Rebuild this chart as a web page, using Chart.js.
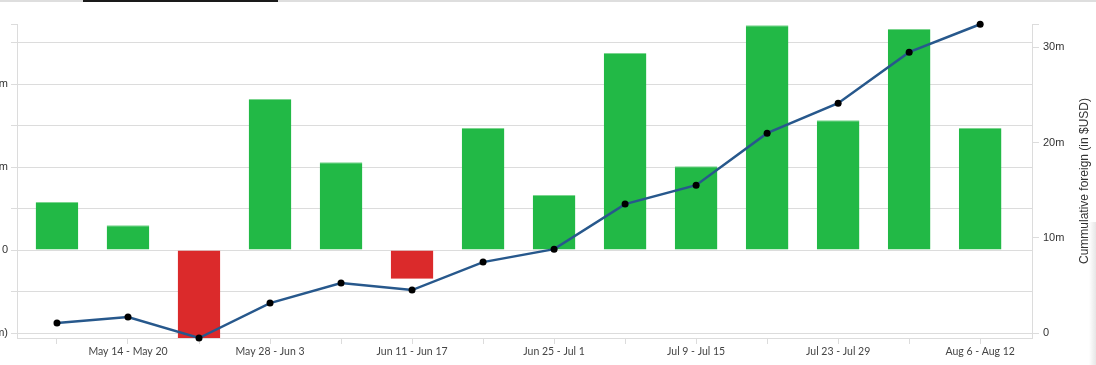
<!DOCTYPE html>
<html>
<head>
<meta charset="utf-8">
<script src="https://cdn.jsdelivr.net/npm/chart.js@4"></script>
<style>
  html, body { margin:0; padding:0; background:#fff; overflow:hidden; }
  body { width:1096px; height:365px; position:relative; }
  #topLine { position:absolute; left:0; top:0; width:1096px; height:2px; background:#dedede; }
  #topTab { position:absolute; left:83px; top:0; width:195px; height:2px; background:#1a1a1a; }
  #edge { position:absolute; left:1089px; top:222px; width:7px; height:143px;
          background:linear-gradient(to right, #ffffff, #e6e6e6); }
  #wrap { position:absolute; left:-43px; top:0; width:1139px; height:365px; }
</style>
</head>
<body>
<div id="wrap"><canvas id="foreignChart"></canvas></div>
<div id="topLine"></div>
<div id="topTab"></div>
<div id="edge"></div>
<script>
// weekly net foreign flow (m USD) and running total
const weeks = ['May 7 - May 13','May 14 - May 20','May 21 - May 27','May 28 - Jun 3','Jun 4 - Jun 10',
  'Jun 11 - Jun 17','Jun 18 - Jun 24','Jun 25 - Jul 1','Jul 2 - Jul 8','Jul 9 - Jul 15',
  'Jul 16 - Jul 22','Jul 23 - Jul 29','Jul 30 - Aug 5','Aug 6 - Aug 12'];
const weeklyNet = [1.16, 0.60, -2.20, 3.64, 2.12, -0.70, 2.94, 1.33, 4.75, 2.02, 5.42, 3.13, 5.33, 2.94];
const cumulative = [1.05, 1.68, -0.52, 3.15, 5.25, 4.51, 7.45, 8.81, 13.54, 15.53, 20.99, 24.13, 29.49, 32.42];
const leftTicks = [-2, -1, 0, 1, 2, 3, 4, 5];
const rightTicks = [0, 10, 20, 30];

const GRID = '#dcdcdc';
const LEFT_MAX = 5.45, RIGHT_MAX = 32.45;

function fmtM(v) {
  if (v === 0) return '0';
  return v < 0 ? '(' + Math.abs(v) + 'm)' : v + 'm';
}

const rightTitle = {
  id: 'rightTitle',
  afterDraw(chart) {
    const ctx = chart.ctx;
    const a = chart.chartArea;
    ctx.save();
    ctx.translate(1128, (a.top + a.bottom) / 2);
    ctx.rotate(-Math.PI / 2);
    ctx.font = '12px "Liberation Sans", Arial, sans-serif';
    ctx.fillStyle = '#333';
    ctx.textAlign = 'center';
    ctx.textBaseline = 'middle';
    ctx.fillText('Cummulative foreign (in $USD)', 0, 0);
    ctx.restore();
  }
};

new Chart(document.getElementById('foreignChart'), {
  data: {
    datasets: [
      {
        type: 'line',
        label: 'Cumulative',
        data: cumulative.map((v, i) => ({ x: i, y: v })),
        yAxisID: 'yRight',
        borderColor: '#27588c',
        borderWidth: 2.5,
        pointRadius: 3.5,
        pointBackgroundColor: '#000',
        pointBorderWidth: 0,
        tension: 0,
        clip: false,
        order: 0
      },
      {
        type: 'bar',
        label: 'Weekly',
        data: weeklyNet.map((v, i) => ({ x: i, y: v })),
        yAxisID: 'yLeft',
        backgroundColor: weeklyNet.map(v => v >= 0 ? '#22b946' : '#db2a2b'),
        borderColor: weeklyNet.map(v => v >= 0 ? '#7bd58f' : '#e88282'),
        borderWidth: { top: 1, bottom: 1, left: 0, right: 0 },
        barPercentage: 0.6,
        categoryPercentage: 1,
        order: 1
      }
    ]
  },
  options: {
    responsive: true,
    maintainAspectRatio: false,
    animation: false,
    layout: { padding: { top: 24, left: 0, right: 0, bottom: 0 } },
    plugins: { legend: { display: false }, tooltip: { enabled: false } },
    scales: {
      x: {
        type: 'linear',
        offset: false,
        min: -0.563,
        max: 13.73,
        afterBuildTicks: s => { s.ticks = weeks.map((_, i) => ({ value: i })); },
        afterFit: s => { s.height = 27; },
        border: { color: GRID },
        grid: { drawOnChartArea: false, offset: false, color: GRID, tickLength: 6 },
        ticks: {
          autoSkip: false,
          maxRotation: 0,
          padding: 1,
          color: '#444',
          font: { family: 'Lato', size: 10.5 },
          callback: v => (v % 2 === 1 ? weeks[v] : '')
        }
      },
      yLeft: {
        position: 'left',
        min: -2.12,
        max: LEFT_MAX,
        afterBuildTicks: s => { s.ticks = leftTicks.concat([LEFT_MAX]).map(v => ({ value: v })); },
        afterFit: s => { s.width = 60; },
        border: { color: GRID },
        grid: {
          color: c => (c.tick && c.tick.value === LEFT_MAX ? 'rgba(0,0,0,0)' : GRID),
          tickColor: GRID,
          tickLength: 6
        },
        ticks: {
          padding: 3,
          color: '#333',
          font: { family: '"Liberation Sans", Arial', size: 11 },
          callback: v => (v !== LEFT_MAX && v % 2 === 0 ? fmtM(v) : '')
        }
      },
      yRight: {
        position: 'right',
        min: -0.52,
        max: RIGHT_MAX,
        afterBuildTicks: s => { s.ticks = rightTicks.concat([RIGHT_MAX]).map(v => ({ value: v })); },
        afterFit: s => { s.width = 64; },
        border: { color: GRID },
        grid: { drawOnChartArea: false, color: GRID, tickLength: 7 },
        ticks: {
          padding: 4,
          color: '#333',
          font: { family: '"Liberation Sans", Arial', size: 11 },
          callback: v => (v === RIGHT_MAX ? '' : fmtM(v))
        }
      }
    }
  },
  plugins: [rightTitle]
});
</script>
</body>
</html>
